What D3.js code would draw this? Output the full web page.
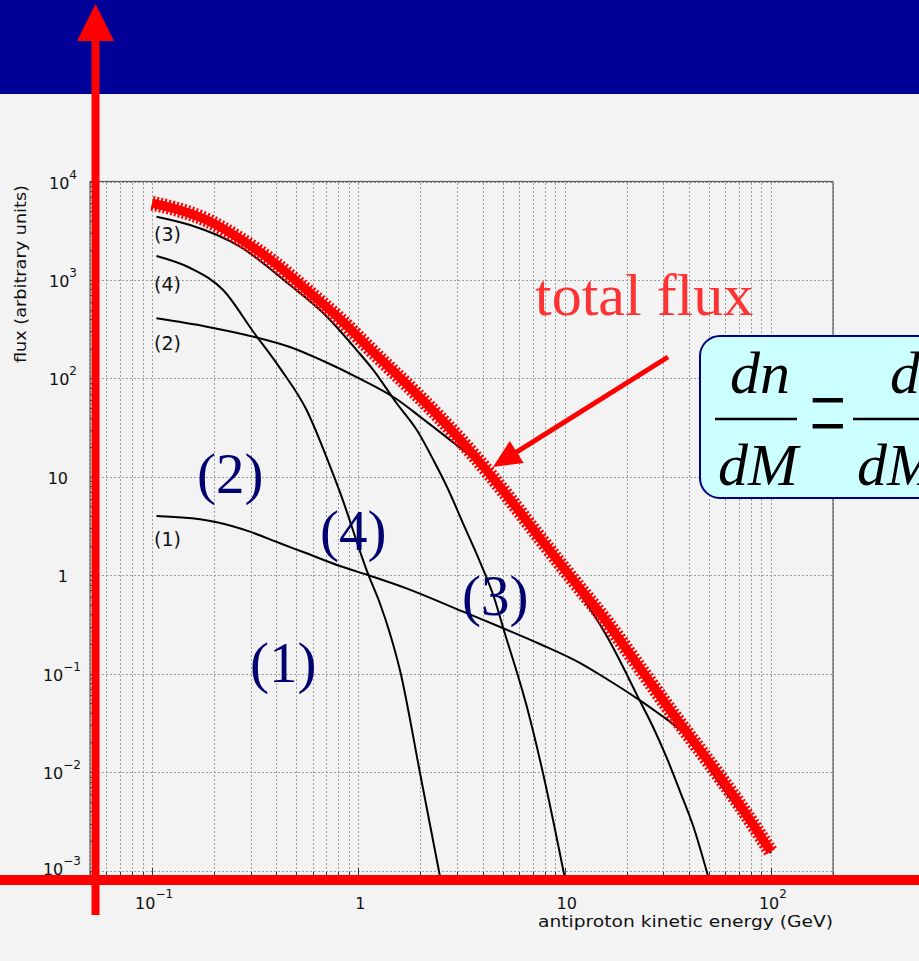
<!DOCTYPE html>
<html>
<head>
<meta charset="utf-8">
<script src="https://cdn.jsdelivr.net/npm/d3@7/dist/d3.min.js"></script>
<style>
  html, body { margin: 0; padding: 0; background: #f3f3f3; overflow: hidden; }
  svg { display: block; }
  .grid line { stroke: #9a9a9a; stroke-dasharray: 2,2; shape-rendering: crispEdges; }
  .grid path, .ticks path { display: none; }
  .ticks line { stroke: #333; shape-rendering: crispEdges; }
  .tick-label { font-family: 'DejaVu Sans', sans-serif; font-size: 16px; fill: #111; }
  .curve-tag { font-family: 'DejaVu Sans', sans-serif; font-size: 19px; fill: #111; }
  .big-tag { font-family: 'Liberation Serif', 'Times New Roman', serif; font-size: 57px; fill: #000070; }
  .formula { font-family: 'Liberation Serif', 'Times New Roman', serif; font-style: italic; font-size: 60px; fill: #000; }
</style>
</head>
<body>
<div id="chart"></div>
<script>
// curve values: antiproton kinetic energy (GeV) -> flux (arbitrary units)
const energy1 = [0.105, 0.171, 0.206, 0.298, 0.417, 0.561, 0.814, 1.12, 1.71, 3.22, 5.04, 7.59, 11.9, 16.0, 22.3, 27.9, 39.0, 56.6, 100];
const flux1 = [4.0, 3.70, 3.45, 2.77, 2.11, 1.67, 1.24, 1.0, 0.736, 0.426, 0.289, 0.200, 0.128, 0.0882, 0.0565, 0.0408, 0.0232, 0.00756, 0.00150];

const energy2 = [0.105, 0.184, 0.31, 0.466, 0.676, 0.981, 1.53, 2.06, 2.78, 3.89, 5.19, 7.59, 10.6, 13.3, 16.0, 19.2, 22.3, 26.9, 31.2, 36.2, 42.0, 49.7];
const flux2 = [407, 335, 265, 208, 150, 103, 61.7, 38.6, 23.7, 13.2, 6.23, 2.23, 0.894, 0.454, 0.241, 0.117, 0.0620, 0.0284, 0.0141, 0.00642, 0.00283, 0.00086];

const energy3 = [0.105, 0.153, 0.267, 0.466, 0.676, 0.981, 1.18, 1.53, 1.92, 2.40, 2.69, 3.29, 3.89, 4.59, 5.02, 6.56, 7.85, 10.0];
const flux3 = [4390, 3610, 2175, 888, 461, 194, 122, 56.2, 29.9, 12.7, 7.88, 3.02, 1.36, 0.56, 0.298, 0.046, 0.0098, 0.00086];

const energy4 = [0.105, 0.153, 0.221, 0.31, 0.417, 0.561, 0.728, 0.814, 1.12, 1.27, 1.42, 1.59, 1.99, 2.49];
const flux4 = [1750, 1322, 790, 296, 127, 47.7, 12.9, 7.0, 1.0, 0.522, 0.259, 0.109, 0.0098, 0.00086];

const energyTotal = [0.1, 0.127, 0.184, 0.267, 0.387, 0.561, 0.814, 1.18, 1.71, 2.49, 3.59, 5.19, 7.59, 11.0, 16.0, 23.2, 33.5, 48.8, 70.8, 100];
const fluxTotal = [6010, 5340, 4060, 2610, 1521, 790, 401, 185, 87.6, 39.6, 17.0, 6.68, 2.39, 0.894, 0.335, 0.114, 0.0389, 0.0136, 0.00462, 0.00155];

// axis ticks and their labels (base and exponent)
const xTickValues = [0.1, 1, 10, 100];
const xTickBase = ['10', '1', '10', '10'];
const xTickExp = ['\u22121', '', '', '2'];
const yTickValues = [1e-3, 1e-2, 1e-1, 1, 10, 1e2, 1e3, 1e4];
const yTickBase = ['10', '10', '10', '1', '10', '10', '10', '10'];
const yTickExp = ['\u22123', '\u22122', '\u22121', '', '', '2', '3', '4'];

const width = 919, height = 961;
const plot = {left: 90, right: 833, top: 181.5, bottom: 877};

const svg = d3.select('#chart')
    .append('svg')
    .attr('width', width)
    .attr('height', height);

svg.append('rect')
    .attr('width', width)
    .attr('height', height)
    .attr('fill', '#f3f3f3');

// slide header band
svg.append('rect')
    .attr('width', width)
    .attr('height', 94)
    .attr('fill', '#000099');

const x = d3.scaleLog().domain([0.05, 200]).range([plot.left, plot.right]);
const y = d3.scaleLog().domain([8.59e-4, 1e4]).range([plot.bottom, plot.top]);

/* ------- grid ---------- */
svg.append('g')
    .attr('class', 'grid')
    .attr('transform', 'translate(0,' + plot.bottom + ')')
    .call(d3.axisBottom(x).tickValues(x.ticks()).tickSize(-(plot.bottom - plot.top)).tickFormat(''));
svg.append('g')
    .attr('class', 'grid')
    .attr('transform', 'translate(' + plot.left + ',0)')
    .call(d3.axisLeft(y).tickValues(yTickValues).tickSize(-(plot.right - plot.left)).tickFormat(''));

/* ------- ticks (inside the frame) ---------- */
svg.append('g')
    .attr('class', 'ticks')
    .attr('transform', 'translate(0,' + plot.bottom + ')')
    .call(d3.axisBottom(x).tickValues(x.ticks().filter(v => !xTickValues.includes(v))).tickSize(-5).tickFormat(''));
svg.append('g')
    .attr('class', 'ticks')
    .attr('transform', 'translate(0,' + plot.bottom + ')')
    .call(d3.axisBottom(x).tickValues(xTickValues).tickSize(-9).tickFormat(''));
svg.append('g')
    .attr('class', 'ticks')
    .attr('transform', 'translate(' + plot.left + ',0)')
    .call(d3.axisLeft(y).tickValues(y.ticks().filter(v => !yTickValues.some(t => Math.abs(t - v) < t * 1e-6))).tickSize(-4).tickFormat(''));
svg.append('g')
    .attr('class', 'ticks')
    .attr('transform', 'translate(' + plot.left + ',0)')
    .call(d3.axisLeft(y).tickValues(yTickValues).tickSize(-8).tickFormat(''));

// frame
svg.append('rect')
    .attr('x', plot.left)
    .attr('y', plot.top)
    .attr('width', plot.right - plot.left)
    .attr('height', plot.bottom - plot.top)
    .attr('fill', 'none')
    .attr('stroke', '#5a5a5a')
    .attr('stroke-width', 1.2);

/* ------- tick labels ---------- */
xTickValues.forEach((v, i) => {
    let t = svg.append('text')
        .attr('class', 'tick-label')
        .attr('x', x(v) + 2)
        .attr('y', 909)
        .attr('text-anchor', 'middle');
    t.append('tspan').text(xTickBase[i]);
    if (xTickExp[i])
        t.append('tspan').attr('font-size', 12).attr('dy', -11).text(xTickExp[i]);
});

yTickValues.forEach((v, i) => {
    let exp = yTickExp[i];
    let t = svg.append('text')
        .attr('class', 'tick-label')
        .attr('x', exp ? (exp.startsWith('\u2212') ? 81 : 77) : 68)
        .attr('y', Math.min(y(v) + 7, 875))
        .attr('text-anchor', 'end');
    t.append('tspan').text(yTickBase[i]);
    if (exp)
        t.append('tspan').attr('font-size', 12).attr('dy', -10).text(exp);
});

// axis titles
svg.append('text')
    .attr('class', 'tick-label')
    .attr('font-size', 15)
    .attr('x', 538)
    .attr('y', 927)
    .attr('textLength', 295)
    .attr('lengthAdjust', 'spacingAndGlyphs')
    .text('antiproton kinetic energy (GeV)');

svg.append('text')
    .attr('class', 'tick-label')
    .attr('font-size', 15)
    .attr('transform', 'translate(26,274) rotate(-90)')
    .attr('text-anchor', 'middle')
    .attr('textLength', 178)
    .attr('lengthAdjust', 'spacingAndGlyphs')
    .text('flux (arbitrary units)');

/* ------- curves ---------- */
svg.append('clipPath')
    .attr('id', 'plot-clip')
    .append('rect')
    .attr('x', plot.left)
    .attr('y', plot.top)
    .attr('width', plot.right - plot.left)
    .attr('height', plot.bottom - plot.top);

const line = d3.line()
    .x(d => x(d[0]))
    .y(d => y(d[1]))
    .curve(d3.curveMonotoneX);

const curves = svg.append('g').attr('clip-path', 'url(#plot-clip)');

[[energy1, flux1], [energy2, flux2], [energy3, flux3], [energy4, flux4]].forEach(([e, f]) => {
    curves.append('path')
        .datum(d3.zip(e, f))
        .attr('d', line)
        .attr('fill', 'none')
        .attr('stroke', '#000')
        .attr('stroke-width', 2);
});

// total flux: thick red band of star markers
const total = d3.zip(energyTotal, fluxTotal);
curves.append('path')
    .datum(total)
    .attr('d', line)
    .attr('fill', 'none')
    .attr('stroke', '#ff0000')
    .attr('stroke-width', 9);
curves.append('path')
    .datum(total)
    .attr('d', line)
    .attr('fill', 'none')
    .attr('stroke', '#ff0000')
    .attr('stroke-width', 15)
    .attr('stroke-dasharray', '2,2');

// small curve tags at the left edge
[['(3)', 241], ['(4)', 291], ['(2)', 350], ['(1)', 546]].forEach(([s, yy]) => {
    svg.append('text')
        .attr('class', 'curve-tag')
        .attr('x', 154)
        .attr('y', yy)
        .text(s);
});

/* ------- slide annotations ---------- */
[['(2)', 197, 493], ['(4)', 320, 550], ['(3)', 462, 615], ['(1)', 250, 682]].forEach(([s, xx, yy]) => {
    svg.append('text')
        .attr('class', 'big-tag')
        .attr('x', xx)
        .attr('y', yy)
        .text(s);
});

svg.append('text')
    .attr('x', 535)
    .attr('y', 315)
    .attr('font-family', "'Liberation Serif', 'Times New Roman', serif")
    .attr('font-size', 60)
    .attr('fill', '#ff3333')
    .text('total flux');

// arrow pointing at the total flux
const arrowStart = [668, 357], arrowTip = [493, 467];
const dx = arrowTip[0] - arrowStart[0], dy = arrowTip[1] - arrowStart[1];
const len = Math.hypot(dx, dy), ux = dx / len, uy = dy / len;
const headLen = 28, headHalf = 13;
const base = [arrowTip[0] - ux * headLen, arrowTip[1] - uy * headLen];
svg.append('line')
    .attr('x1', arrowStart[0]).attr('y1', arrowStart[1])
    .attr('x2', base[0] + ux * 4).attr('y2', base[1] + uy * 4)
    .attr('stroke', '#ff0000')
    .attr('stroke-width', 5);
svg.append('polygon')
    .attr('points', [arrowTip, [base[0] - uy * headHalf, base[1] + ux * headHalf], [base[0] + uy * headHalf, base[1] - ux * headHalf]].join(' '))
    .attr('fill', '#ff0000');

// formula box
svg.append('rect')
    .attr('x', 700)
    .attr('y', 336)
    .attr('width', 280)
    .attr('height', 162)
    .attr('rx', 20)
    .attr('fill', '#ccffff')
    .attr('stroke', '#000080')
    .attr('stroke-width', 2);

const formula = svg.append('g');
formula.append('text').attr('class', 'formula').attr('x', 730).attr('y', 393).text('dn');
formula.append('text').attr('class', 'formula').attr('x', 718).attr('y', 485).text('dM');
formula.append('line').attr('x1', 715).attr('x2', 797).attr('y1', 419).attr('y2', 419)
    .attr('stroke', '#000').attr('stroke-width', 2.5);
formula.append('text')
    .attr('transform', 'translate(828,456) scale(0.56,1)')
    .attr('font-family', 'Roboto, sans-serif')
    .attr('font-weight', 100)
    .attr('font-size', 130)
    .attr('text-anchor', 'middle')
    .attr('stroke', '#000')
    .attr('stroke-width', 1.2)
    .text('=');
formula.append('text').attr('class', 'formula').attr('x', 890).attr('y', 393).text('dn');
formula.append('text').attr('class', 'formula').attr('x', 857).attr('y', 485).text('dM');
formula.append('line').attr('x1', 853).attr('x2', 940).attr('y1', 419).attr('y2', 419)
    .attr('stroke', '#000').attr('stroke-width', 2.5);

/* ------- red axis arrows over the slide ---------- */
svg.append('rect')
    .attr('x', 0)
    .attr('y', 875)
    .attr('width', width)
    .attr('height', 10)
    .attr('fill', '#ff0000');
svg.append('rect')
    .attr('x', 91.5)
    .attr('y', 38)
    .attr('width', 8)
    .attr('height', 877)
    .attr('fill', '#ff0000');
svg.append('polygon')
    .attr('points', '95.5,4 77,41 114,41')
    .attr('fill', '#ff0000');
</script>
</body>
</html>
